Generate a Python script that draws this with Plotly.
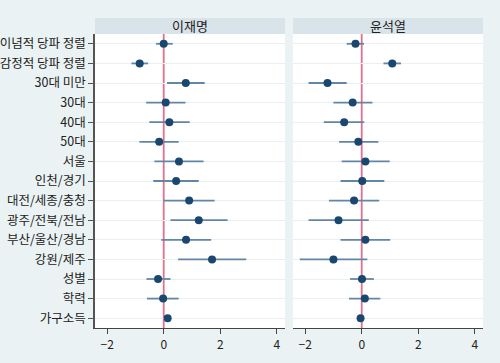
import plotly.graph_objects as go

labels = ["이념적 당파 정렬", "감정적 당파 정렬", "30대 미만", "30대", "40대", "50대",
          "서울", "인천/경기", "대전/세종/충청", "광주/전북/전남", "부산/울산/경남",
          "강원/제주", "성별", "학력", "가구소득"]

panels = ["이재명", "윤석열"]

lee_est = [0.00, -0.85, 0.78, 0.07, 0.20, -0.16, 0.54, 0.44, 0.90, 1.24, 0.79, 1.71, -0.20, -0.02, 0.14]
lee_lo  = [-0.27, -1.14, 0.12, -0.62, -0.51, -0.86, -0.33, -0.37, -0.02, 0.24, -0.09, 0.51, -0.61, -0.59, 0.08]
lee_hi  = [0.32, -0.55, 1.45, 0.77, 0.92, 0.53, 1.41, 1.24, 1.80, 2.26, 1.68, 2.92, 0.24, 0.53, 0.20]

yoon_est = [-0.22, 1.08, -1.21, -0.32, -0.62, -0.12, 0.13, 0.02, -0.27, -0.82, 0.13, -1.00, 0.01, 0.11, -0.04]
yoon_lo  = [-0.53, 0.77, -1.88, -1.00, -1.34, -0.80, -0.71, -0.75, -1.16, -1.88, -0.75, -2.19, -0.41, -0.45, -0.10]
yoon_hi  = [0.08, 1.39, -0.53, 0.38, 0.09, 0.59, 0.99, 0.80, 0.62, 0.25, 1.01, 0.20, 0.43, 0.66, 0.02]

x_ticks = [-2, 0, 2, 4]

W, H = 500, 363
FONT = "Noto Sans CJK KR"
marker_col = "#1a476f"
ci_col = "#6286a8"
ref_col = "#e2708d"

fig = go.Figure()

series = [(lee_est, lee_lo, lee_hi), (yoon_est, yoon_lo, yoon_hi)]
for i, (est, lo, hi) in enumerate(series):
    sfx = "" if i == 0 else "2"
    fig.add_trace(go.Scatter(
        x=est, y=labels, mode="markers",
        marker=dict(color=marker_col, size=8),
        error_x=dict(type="data", symmetric=False,
                     array=[h - e for h, e in zip(hi, est)],
                     arrayminus=[e - l for e, l in zip(est, lo)],
                     width=0, thickness=1.8, color=ci_col),
        xaxis="x" + sfx, yaxis="y" + sfx, showlegend=False, hoverinfo="skip"))

def px_x(p):
    return p / W

def px_y(p):
    return (H - p) / H

dom_left = [px_x(95), px_x(285)]
dom_right = [px_x(293), px_x(483)]
dom_y = [px_y(328), px_y(34)]

xcommon = dict(range=[-2.43, 4.29], tickvals=x_ticks, ticks="outside", ticklen=5,
               tickcolor="#444", showline=True, linecolor="#444", linewidth=1.2,
               showgrid=False, zeroline=False, automargin=False,
               tickfont=dict(family=FONT, size=12, color="#222"))
ycommon = dict(type="category", categoryorder="array", categoryarray=labels,
               range=[14.5, -0.5], showgrid=True, gridcolor="#eaf0f2", gridwidth=1,
               zeroline=False, domain=dom_y, automargin=False)

fig.update_layout(
    template="none",
    width=W, height=H, margin=dict(l=0, r=0, t=0, b=0),
    paper_bgcolor="#eaf2f3", plot_bgcolor="white",
    xaxis=dict(domain=dom_left, anchor="y", **xcommon),
    xaxis2=dict(domain=dom_right, anchor="y2", **xcommon),
    yaxis=dict(anchor="x", showline=True, linecolor="#555", linewidth=1.5,
               ticks="outside", ticklen=5, tickcolor="#555",
               tickfont=dict(family=FONT, size=12.5, color="#222"), **ycommon),
    yaxis2=dict(anchor="x2", showticklabels=False, ticks="", **ycommon),
)

shapes = []
for dom, xr in [(dom_left, "x"), (dom_right, "x2")]:
    shapes.append(dict(type="rect", xref="paper", yref="paper", x0=dom[0], x1=dom[1],
                       y0=px_y(34), y1=px_y(18), fillcolor="#d8e4ea", line=dict(width=0)))
    shapes.append(dict(type="line", xref=xr, yref="paper", x0=0, x1=0,
                       y0=dom_y[0], y1=dom_y[1], line=dict(color=ref_col, width=1.8), layer="below"))
fig.update_layout(shapes=shapes)

for dom, name in [(dom_left, panels[0]), (dom_right, panels[1])]:
    fig.add_annotation(x=(dom[0] + dom[1]) / 2, y=px_y(26), xref="paper", yref="paper",
                       text=name, showarrow=False, xanchor="center", yanchor="middle",
                       font=dict(family=FONT, size=13, color="#222"))

fig.write_html("out.html", config={"displayModeBar": False},
               post_script="document.body.style.margin='0';document.body.style.overflow='hidden';")
